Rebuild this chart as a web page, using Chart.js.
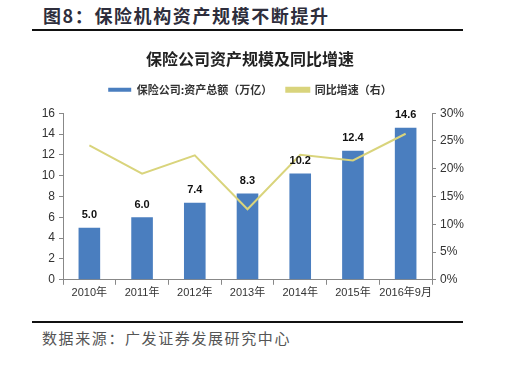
<!DOCTYPE html>
<html>
<head>
<meta charset="utf-8">
<script src="https://cdn.jsdelivr.net/npm/chart.js@4"></script>
<style>
  body { margin: 0; background: #fff; width: 505px; height: 365px; position: relative; overflow: hidden; }
  .head { position: absolute; left: 43px; top: 2px; font: bold 18px "Noto Sans CJK SC"; color: #2e2e3c; letter-spacing: 1.6px; }
  .rule { position: absolute; left: 32px; width: 431px; height: 2px; background: #111; }
  .foot { position: absolute; left: 42px; top: 327px; font: 15px "Noto Sans CJK SC"; color: #555; letter-spacing: 1.6px; }
  #wrap { position: absolute; left: 0; top: 40px; width: 505px; height: 270px; }
</style>
</head>
<body>
<div class="head">图8：保险机构资产规模不断提升</div>
<div class="rule" style="top:29px"></div>
<div id="wrap"><canvas id="chart"></canvas></div>
<div class="rule" style="top:321px"></div>
<div class="foot">数据来源：广发证券发展研究中心</div>
<script>
// categories and values
const years = ['2010年', '2011年', '2012年', '2013年', '2014年', '2015年', '2016年9月'];
const assets = [5.0, 6.0, 7.4, 8.3, 10.2, 12.4, 14.6];
const growth = [24.2, 19.1, 22.4, 12.7, 22.5, 21.5, 26.3];

const axisFont = { family: '"Liberation Sans", "Noto Sans CJK SC"', size: 11 };

// numbers above the bars
const barLabels = {
  id: 'barLabels',
  afterDatasetsDraw(chart) {
    const ctx = chart.ctx;
    const meta = chart.getDatasetMeta(0);
    ctx.save();
    ctx.font = 'bold 11px "Liberation Sans"';
    ctx.fillStyle = '#111';
    ctx.textAlign = 'center';
    ctx.textBaseline = 'bottom';
    meta.data.forEach((bar, i) => {
      ctx.fillText(assets[i].toFixed(1), bar.x, bar.y - 7);
    });
    ctx.restore();
  }
};

// a bit more room between legend and plot
const legendGap = {
  id: 'legendGap',
  beforeInit(chart) {
    const fit = chart.legend.fit;
    chart.legend.fit = function () {
      fit.call(this);
      this.height += 8;
    };
  }
};

new Chart(document.getElementById('chart'), {
  type: 'bar',
  data: {
    labels: years,
    datasets: [
      {
        label: '保险公司:资产总额（万亿）',
        data: assets,
        backgroundColor: '#4a7ebf',
        barPercentage: 0.41,
        categoryPercentage: 1,
        yAxisID: 'y',
        order: 1,
      },
      {
        type: 'line',
        label: '同比增速（右）',
        data: growth,
        borderColor: '#d9d47c',
        backgroundColor: '#d9d47c',
        borderWidth: 2,
        pointRadius: 0,
        tension: 0,
        yAxisID: 'y1',
        order: 0,
      },
    ],
  },
  options: {
    responsive: true,
    maintainAspectRatio: false,
    animation: false,
    layout: { padding: { left: 28, right: 33, top: 0, bottom: 8 } },
    plugins: {
      title: {
        display: true,
        text: '保险公司资产规模及同比增速',
        color: '#222',
        font: { family: '"Noto Sans CJK SC"', size: 16, weight: 'bold' },
        padding: { top: 9, bottom: 2 },
      },
      legend: {
        labels: {
          boxWidth: 23,
          boxHeight: 4,
          color: '#333',
          padding: 14,
          font: { family: '"Noto Sans CJK SC"', size: 11, weight: 'bold' },
          sort: (a, b) => a.datasetIndex - b.datasetIndex,
        },
      },
      tooltip: { enabled: false },
    },
    scales: {
      x: {
        grid: { offset: true, drawOnChartArea: false, tickLength: 5, color: '#888' },
        border: { color: '#888' },
        ticks: { color: '#333', font: axisFont, padding: 2, maxRotation: 0, autoSkip: false },
      },
      y: {
        position: 'left',
        min: 0,
        max: 16,
        ticks: { stepSize: 2, color: '#333', font: { family: '"Liberation Sans"', size: 12 }, padding: 4 },
        grid: { drawOnChartArea: false, tickLength: 4, color: '#888' },
        border: { color: '#888' },
        afterFit(s) { s.width = 35; },
      },
      y1: {
        position: 'right',
        min: 0,
        max: 30,
        ticks: { stepSize: 5, color: '#333', font: { family: '"Liberation Sans"', size: 12 }, padding: 4, callback: v => v + '%' },
        grid: { drawOnChartArea: false, tickLength: 4, color: '#888' },
        border: { color: '#888' },
        afterFit(s) { s.width = 40; },
      },
    },
  },
  plugins: [barLabels, legendGap],
});
</script>
</body>
</html>
